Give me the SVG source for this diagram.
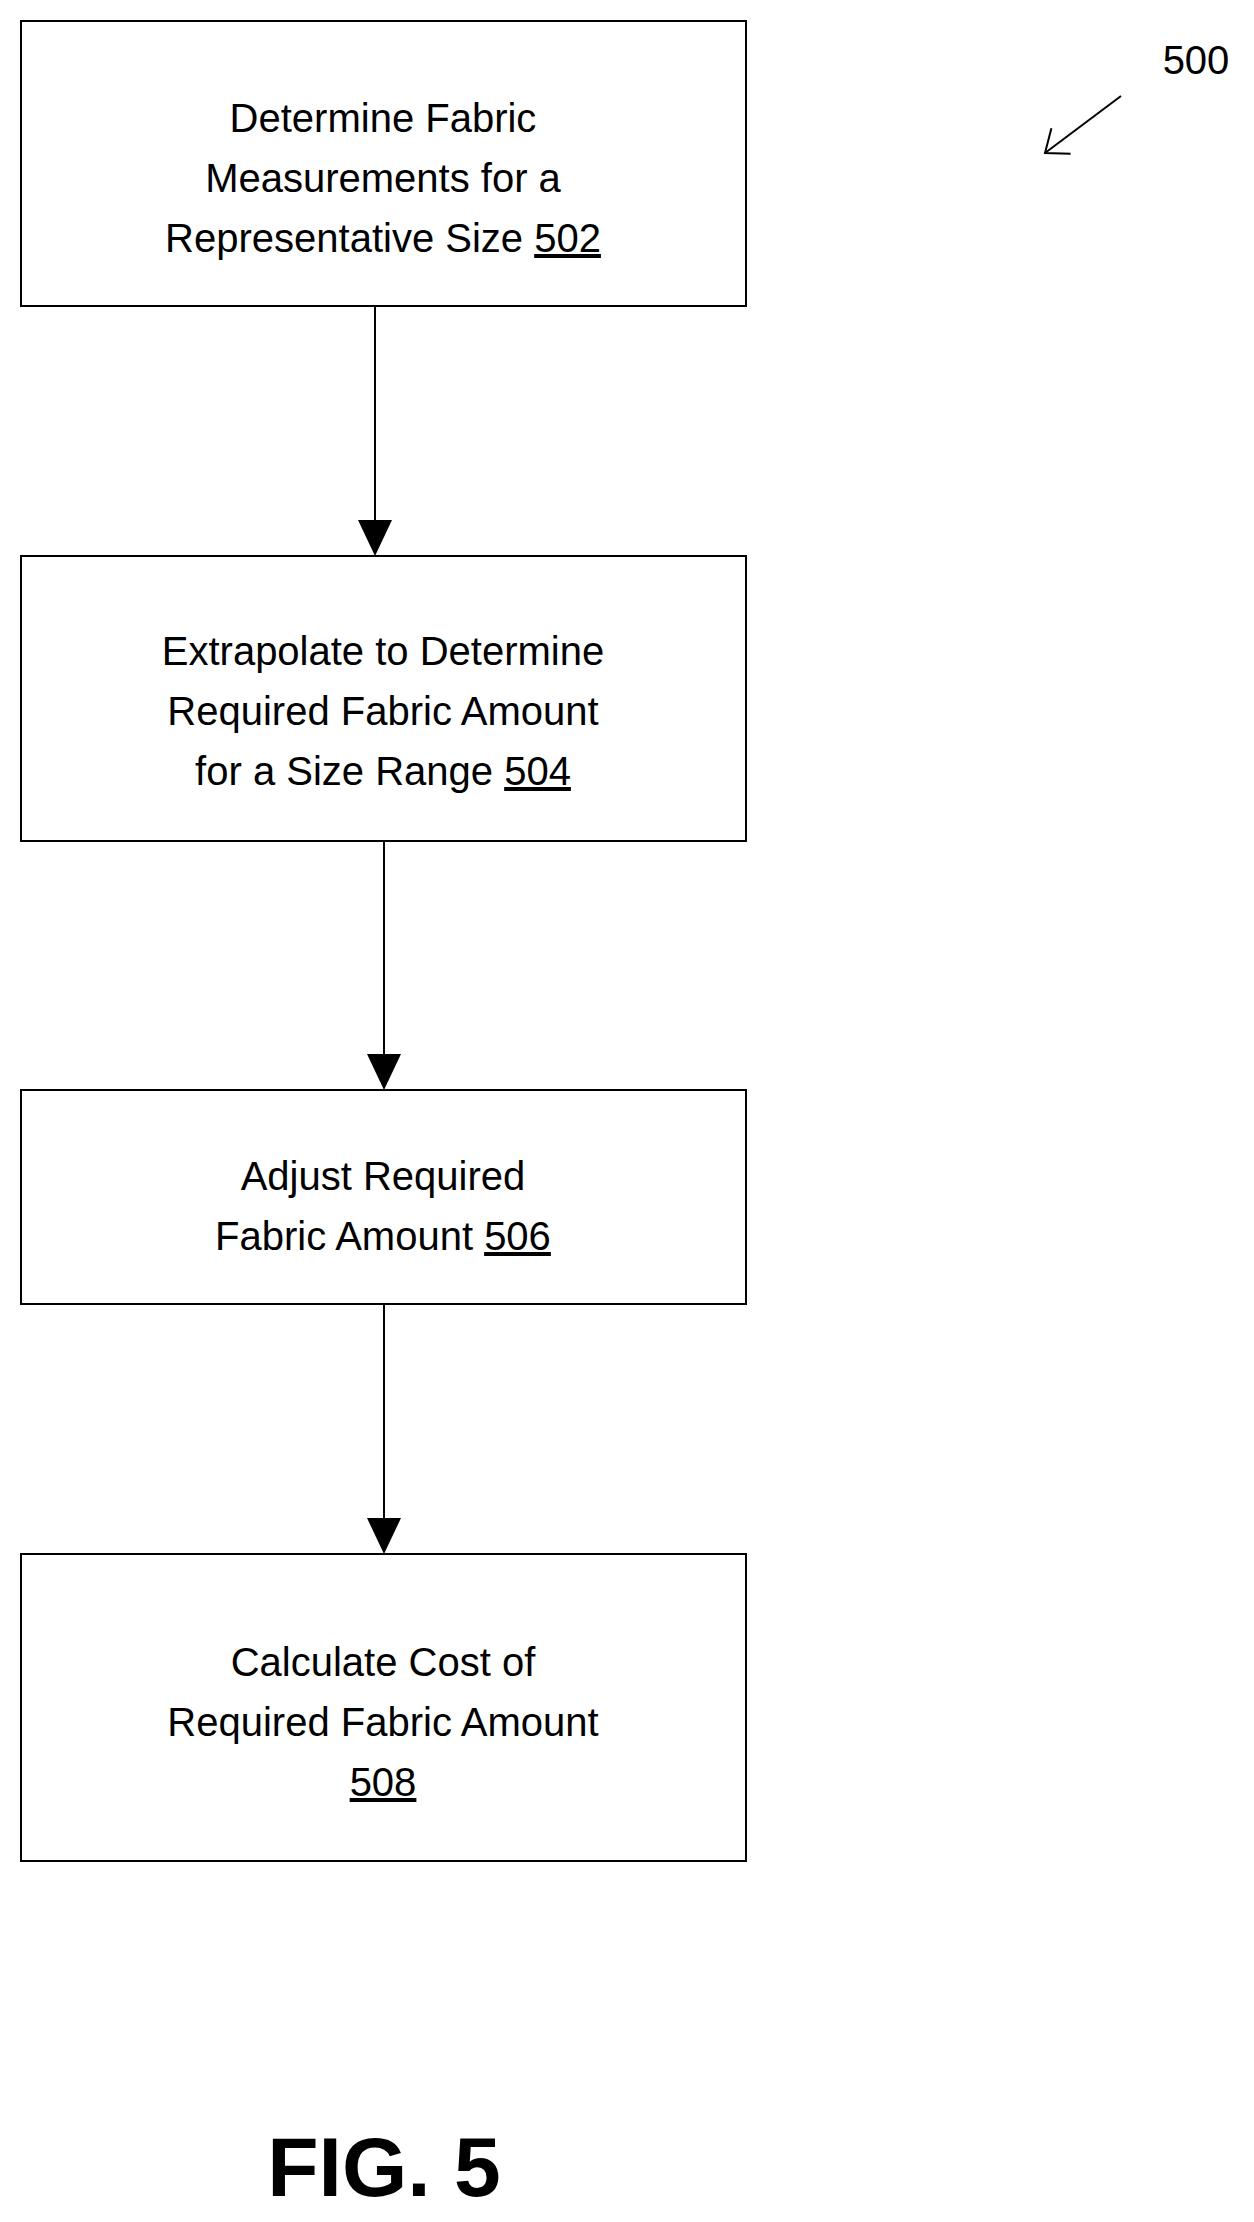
<svg xmlns="http://www.w3.org/2000/svg" width="1254" height="2222" viewBox="0 0 1254 2222">
<style>
.b{fill:#fff;stroke:#000;stroke-width:2}
.t{font-family:"Liberation Sans",Arial,sans-serif;font-size:40px;text-anchor:middle;fill:#000}
.c{stroke:#000;stroke-width:2;fill:none}
</style>
<defs>
<marker id="a" markerWidth="12" markerHeight="12" refX="11" refY="6" orient="auto" markerUnits="userSpaceOnUse" viewBox="0 0 12 12"><path d="M0,0L12,6L0,12Z" fill="#000"/></marker>
<marker id="h" markerWidth="40" markerHeight="40" refX="38" refY="20" orient="auto" markerUnits="userSpaceOnUse" viewBox="0 0 40 40"><path d="M18,4L38,20L18,36" class="c"/></marker>
</defs>
<rect width="1254" height="2222" fill="#fff"/>
<g id="n502"><rect class="b" x="21" y="21" width="725" height="285"/>
<text class="t" x="383" y="132">Determine Fabric</text><text class="t" x="383" y="192">Measurements for a</text><text class="t" x="383" y="252">Representative Size <tspan text-decoration="underline">502</tspan></text></g>
<g id="n504"><rect class="b" x="21" y="556" width="725" height="285"/>
<text class="t" x="383" y="665">Extrapolate to Determine</text><text class="t" x="383" y="725">Required Fabric Amount</text><text class="t" x="383" y="785">for a Size Range <tspan text-decoration="underline">504</tspan></text></g>
<g id="n506"><rect class="b" x="21" y="1090" width="725" height="214"/>
<text class="t" x="383" y="1190">Adjust Required</text><text class="t" x="383" y="1250">Fabric Amount <tspan text-decoration="underline">506</tspan></text></g>
<g id="n508"><rect class="b" x="21" y="1554" width="725" height="307"/>
<text class="t" x="383" y="1676">Calculate Cost of</text><text class="t" x="383" y="1736">Required Fabric Amount</text><text class="t" x="383" y="1796" text-decoration="underline">508</text></g>
<g id="connectors">
<path d="M375,306V520" class="c"/><path d="M358,520h34l-17,36z"/>
<path d="M384,841V1054" class="c"/><path d="M367,1054h34l-17,36z"/>
<path d="M384,1304V1518" class="c"/><path d="M367,1518h34l-17,36z"/>
<path d="M1121,96L1045,153" class="c" marker-end="url(#h)"/>
</g>
<text class="t" x="1196" y="74">500</text>
<text x="384" y="2196" style="font-family:'Liberation Sans',Arial,sans-serif;font-size:84px;font-weight:bold;text-anchor:middle">FIG. 5</text>
</svg>
